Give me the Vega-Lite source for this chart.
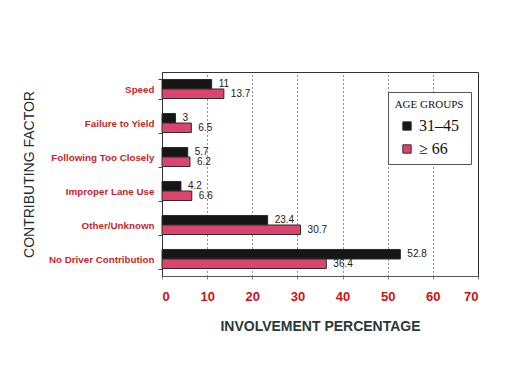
{
  "$schema": "https://vega.github.io/schema/vega-lite/v6.json",
  "autosize": "none",
  "width": 316,
  "height": 204,
  "padding": {"left": 162, "top": 72, "right": 43, "bottom": 92},
  "background": "white",
  "data": {
    "values": [
      {"factor": "Speed", "group": "31–45", "value": 11},
      {"factor": "Speed", "group": "≥ 66", "value": 13.7},
      {"factor": "Failure to Yield", "group": "31–45", "value": 3},
      {"factor": "Failure to Yield", "group": "≥ 66", "value": 6.5},
      {"factor": "Following Too Closely", "group": "31–45", "value": 5.7},
      {"factor": "Following Too Closely", "group": "≥ 66", "value": 6.2},
      {"factor": "Improper Lane Use", "group": "31–45", "value": 4.2},
      {"factor": "Improper Lane Use", "group": "≥ 66", "value": 6.6},
      {"factor": "Other/Unknown", "group": "31–45", "value": 23.4},
      {"factor": "Other/Unknown", "group": "≥ 66", "value": 30.7},
      {"factor": "No Driver Contribution", "group": "31–45", "value": 52.8},
      {"factor": "No Driver Contribution", "group": "≥ 66", "value": 36.4}
    ]
  },
  "encoding": {
    "y": {
      "field": "factor",
      "type": "nominal",
      "sort": null,
      "scale": {"paddingInner": 0.44, "paddingOuter": 0.22},
      "axis": {
        "title": "CONTRIBUTING FACTOR",
        "titleFont": "Liberation Sans",
        "titleFontSize": 14,
        "titleFontWeight": "normal",
        "titleColor": "#1f2b2b",
        "titleX": -126,
        "titleY": 102,
        "titleAngle": -90,
        "titleAlign": "center",
        "titleBaseline": "bottom",
        "labelFont": "Liberation Sans",
        "labelFontSize": 9.8,
        "labelFontWeight": "bold",
        "labelColor": "#cc1f2a",
        "labelPadding": 4,
        "tickBand": "extent",
        "tickSize": 4,
        "tickColor": "#444",
        "domainColor": "#333",
        "grid": false
      }
    },
    "yOffset": {"field": "group", "type": "nominal", "sort": ["31–45", "≥ 66"], "scale": {"paddingInner": 0, "paddingOuter": 0}},
    "x": {
      "field": "value",
      "type": "quantitative",
      "scale": {"domain": [0, 70], "nice": false},
      "axis": {
        "title": "INVOLVEMENT PERCENTAGE",
        "values": [0, 10, 20, 30, 40, 50, 60, 70],
        "titleFont": "Liberation Sans",
        "titleFontSize": 14,
        "titleFontWeight": "bold",
        "titleColor": "#2a3838",
        "titlePadding": 16,
        "labelFont": "Liberation Sans",
        "labelFontSize": 13,
        "labelFontWeight": "bold",
        "labelColor": "#cc1111",
        "labelPadding": 11,
        "tickSize": 3,
        "tickColor": "#888",
        "domainColor": "#555",
        "grid": true,
        "gridColor": "#222",
        "gridDash": [1, 3],
        "gridWidth": 1
      }
    }
  },
  "layer": [
    {
      "mark": {"type": "bar", "stroke": "#2a2a2a", "strokeWidth": 1},
      "encoding": {
        "color": {
          "field": "group",
          "type": "nominal",
          "sort": ["31–45", "≥ 66"],
          "scale": {"domain": ["31–45", "≥ 66"], "range": ["#161616", "#dc4470"]},
          "legend": {
            "title": "AGE GROUPS",
            "orient": "none",
            "legendX": 226,
            "legendY": 20,
            "titleFont": "Liberation Serif",
            "titleFontSize": 11,
            "titleFontWeight": "normal",
            "titleColor": "#111",
            "titleAnchor": "middle",
            "titlePadding": 8,
            "labelFont": "Liberation Serif",
            "labelFontSize": 16,
            "labelColor": "#111",
            "symbolType": "square",
            "symbolSize": 70,
            "symbolStrokeColor": "#333",
            "symbolStrokeWidth": 1,
            "rowPadding": 7,
            "padding": 7,
            "strokeColor": "#555",
            "fillColor": "white"
          }
        }
      }
    },
    {
      "mark": {"type": "text", "align": "left", "baseline": "middle", "dx": 7, "font": "Liberation Sans", "fontSize": 10, "color": "#1a1a1a"},
      "encoding": {"text": {"field": "value", "type": "quantitative"}}
    }
  ],
  "config": {
    "view": {"stroke": "#333", "strokeWidth": 1}
  }
}
